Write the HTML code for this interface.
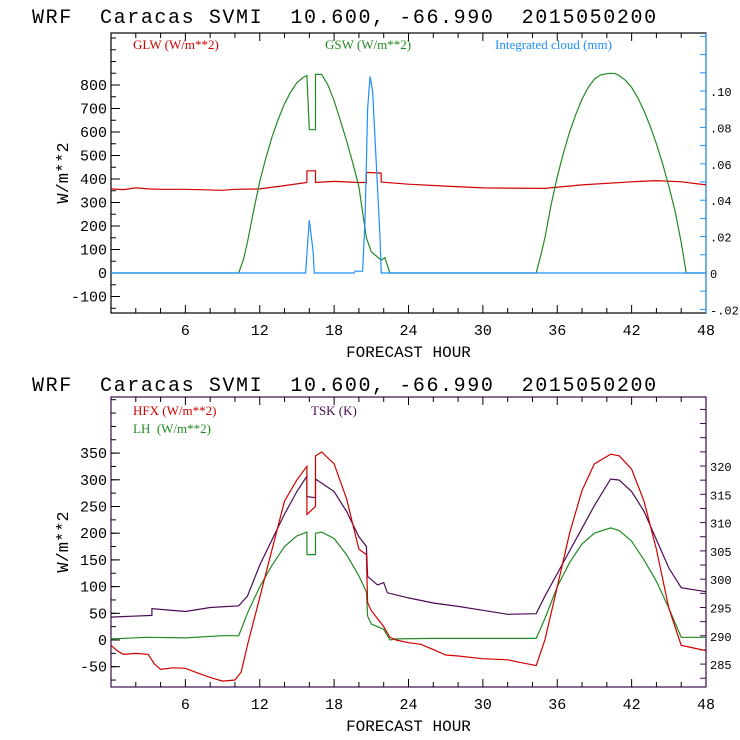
<!DOCTYPE html>
<html><head><meta charset="utf-8"><style>
body{margin:0;background:#fff;width:740px;height:740px;overflow:hidden}
svg{display:block}
text{font-family:"Liberation Mono",monospace}
.lg{font-family:"Liberation Serif",serif;font-size:13px}
.ttl{white-space:pre}
</style></head><body>
<svg id="c" width="740" height="740"></svg>
<script>
// ---- data ----
const gswH=[0,10.3,10.7,11,11.5,12,12.5,13,13.5,14,14.5,15,15.5,15.8,16,16.5,16.5,17,17.5,18,18.5,19,19.5,20,20.6,21,21.8,22.1,22.5,34.3,34.7,35,35.5,36,36.5,37,37.5,38,38.5,39,39.5,40,40.3,40.7,41,41.5,42,42.5,43,43.5,44,44.5,45,45.5,46,46.4,48];
const gswV=[0,0,60,130,265,390,490,580,655,720,770,810,832,840,610,610,845,845,800,733,650,564,470,367,150,90,55,65,0,0,80,150,290,410,510,600,675,740,790,825,843,848,850,848,840,820,790,745,690,625,550,465,370,265,130,0,0];
const glwH=[0,1,2,3,4,6,9,10,12,14,15.8,15.8,16.5,16.5,18,20,20.6,20.6,21.8,21.8,24,27,30,35,38,42,44,46,48];
const glwV=[358,355,362,358,356,356,352,356,358,372,385,435,435,385,390,385,385,428,425,387,378,370,362,360,375,388,393,388,375];
const cldH=[0,15.7,15.9,16.0,16.3,16.4,19.6,19.7,20.3,20.5,20.7,20.9,21.1,21.4,21.7,21.8,48];
const cldV=[0,0,0.02,0.029,0.012,0,0,0.001,0.001,0.03,0.09,0.108,0.1,0.06,0.02,0,0];
const hfxH=[0,0.5,1,2,3,3.5,4,5,6,7,8,9,10,10.5,11,12,13,14,15,15.8,15.8,16.5,16.5,17,18,19,20,20.6,20.7,21,21.5,22,22.5,23,24,25,26,27,28,30,32,33,34.3,35,36,37,38,39,40.3,41,42,43,44,45,46,47,48];
const hfxV=[-10,-20,-27,-25,-27,-45,-55,-52,-53,-62,-70,-77,-75,-60,-10,80,170,260,300,325,235,250,345,352,330,265,170,160,70,55,40,25,5,0,-5,-8,-18,-28,-30,-35,-37,-42,-48,0,100,200,280,330,348,345,320,260,170,60,-10,-15,-20];
const lhH=[0,3,6,9,10.3,11,12,13,14,15,15.8,15.8,16.5,16.5,17,18,19,20,20.6,20.7,21,22,22.5,23,26,30,34.3,35,36,37,38,39,40.3,41,42,43,44,45,46,48];
const lhV=[2,5,4,8,8,50,100,140,175,195,202,160,160,200,202,190,160,120,90,45,30,20,0,2,3,3,3,40,100,145,180,200,210,205,185,150,110,60,5,5];
const tskH=[0,3.3,3.3,6,8,10.3,11,12,13,14,15,15.8,15.8,16.5,16.5,18,19,20,20.6,20.7,21.5,22,22.3,24,26,28,30,32,34.3,35,36,37,38,39,40.3,41,42,43,44,45,46,48];
const tskV=[293.3,293.6,294.8,294.3,295,295.3,297,302.5,307,311.5,315.5,318.2,314.6,314.4,317.7,315.5,312,307.5,305.8,300.5,299,299.4,297.6,296.7,295.8,295.2,294.5,293.8,293.9,297,301,305,309,313,317.7,317.5,315.5,312,307,302,298.5,297.8];
const xTicks=[6,12,18,24,30,36,42,48];
const topLeftTicks=[-100,0,100,200,300,400,500,600,700,800];
const topRightTicks=[-0.02,0,0.02,0.04,0.06,0.08,0.10];
const botLeftTicks=[-50,0,50,100,150,200,250,300,350];
const botRightTicks=[285,290,295,300,305,310,315,320];
// ---- scales ----
const X0=111,X1=706;
const xs=h=>X0+h*(X1-X0)/48;
const T={top:33,bot:313}, B={top:397,bot:687};
const yTL=v=>273-v*0.235;
const yTR=v=>273-v*1820;
const yBL=v=>640-v*0.534;
const yBR=v=>466-(v-320)*5.66;
const svg=document.getElementById('c');
const NS='http://www.w3.org/2000/svg';
function mk(tag,attrs,txt){const e=document.createElementNS(NS,tag);for(const k in attrs)e.setAttribute(k,attrs[k]);if(txt!==undefined)e.textContent=txt;svg.appendChild(e);return e;}
function line(x1,y1,x2,y2,c,name){const e=mk('line',{x1,y1,x2,y2,stroke:c,'stroke-width':1});

return e;}
function txt(x,y,s,opt,name){const e=mk('text',Object.assign({x,y,'font-size':15},opt),s);

return e;}
function series(H,V,ys,c,name){const d=H.map((h,i)=>(i?'L':'M')+xs(h).toFixed(1)+' '+ys(V[i]).toFixed(1)).join(' ');
const e=mk('path',{d,fill:'none',stroke:c,'stroke-width':1.2});

}
function panel(P,yl,yr,lt,rt,lstep,rstep,lmin,lmax,rmin,rmax,rc,pre){
  const f=mk('rect',{x:X0,y:P.top,width:X1-X0,height:P.bot-P.top,fill:'none',stroke:pre=='top'?'#000':'#3a0a4a','stroke-width':1.2});
  
  
  line(X1,P.top,X1,P.bot,rc,pre+'-right-axis');
  for(let h=2;h<48;h+=2){const L=h%6==0?8:5;line(xs(h),P.bot,xs(h),P.bot-L,'#000',pre+'-x-tick');line(xs(h),P.top,xs(h),P.top+L,'#000',pre+'-x-tick');}
  xTicks.forEach(h=>txt(xs(h),P.bot+22,String(h),{'text-anchor':'middle'},pre+'-x-label'));
  for(let v=lmin;v<=lmax;v+=lstep){const y=yl(v);if(y<P.top||y>P.bot)continue;line(X0,y,X0+5,y,'#000',pre+'-y-tick');}
  lt.forEach(v=>{line(X0,yl(v),X0+9,yl(v),'#000',pre+'-y-tick');
    txt(X0-4,yl(v)+5,String(v),{'text-anchor':'end'},pre+'-y-label');});
  for(let v=rmin;v<=rmax+1e-9;v+=rstep){const y=yr(v);if(y<P.top||y>P.bot)continue;line(X1,y,X1-6,y,rc,pre+'-right-tick');}
  txt(X0+(X1-X0)/2,P.bot+44,'FORECAST HOUR',{'text-anchor':'middle','font-size':16},pre+'-x-axis-title');
  txt(0,0,'W/m**2',{'font-size':17,transform:`translate(68,${(P.top+P.bot)/2}) rotate(-90)`,'text-anchor':'middle'},pre+'-y-axis-title');
  txt(32,pre=='top'?23:391,'WRF  Caracas SVMI  10.600, -66.990  2015050200',{'font-size':20,'letter-spacing':'1.6',class:'ttl','xml:space':'preserve'},pre+'-title');
}
// top
panel(T,yTL,yTR,topLeftTicks,topRightTicks,50,0.01,-150,1000,-0.02,0.13,'#1e8fff','top');
topRightTicks.forEach(v=>txt(X1+4,yTR(v)+5,v===0?'0':(v<0?'-.02':('.'+Math.round(v*100).toString().padStart(2,'0'))),{'font-size':12},'top-right-label'));
series(glwH,glwV,yTL,'#d00000','glw-line');
series(gswH,gswV,yTL,'#228b22','gsw-line');
series(cldH,cldV,yTR,'#1e8fff','cloud-line');
txt(133,49,'GLW (W/m**2)',{class:'lg',fill:'#d00000'},'legend-glw');
txt(325,49,'GSW (W/m**2)',{class:'lg',fill:'#228b22'},'legend-gsw');
txt(495,49,'Integrated cloud (mm)',{class:'lg',fill:'#1e8fff'},'legend-cloud');
// bottom
panel(B,yBL,yBR,botLeftTicks,botRightTicks,25,2.5,-75,450,282.5,332,'#3a0a4a','bottom');
botRightTicks.forEach(v=>txt(X1+4,yBR(v)+5,String(v),{'font-size':12},'bottom-right-label'));
series(tskH,tskV,yBR,'#4b0a55','tsk-line');
series(lhH,lhV,yBL,'#228b22','lh-line');
series(hfxH,hfxV,yBL,'#d00000','hfx-line');
txt(133,415,'HFX (W/m**2)',{class:'lg',fill:'#d00000'},'legend-hfx');
txt(133,433,'LH  (W/m**2)',{class:'lg',fill:'#228b22','xml:space':'preserve',style:'white-space:pre'},'legend-lh');
txt(311,415,'TSK (K)',{class:'lg',fill:'#4b0a55'},'legend-tsk');
</script>
</body></html>
